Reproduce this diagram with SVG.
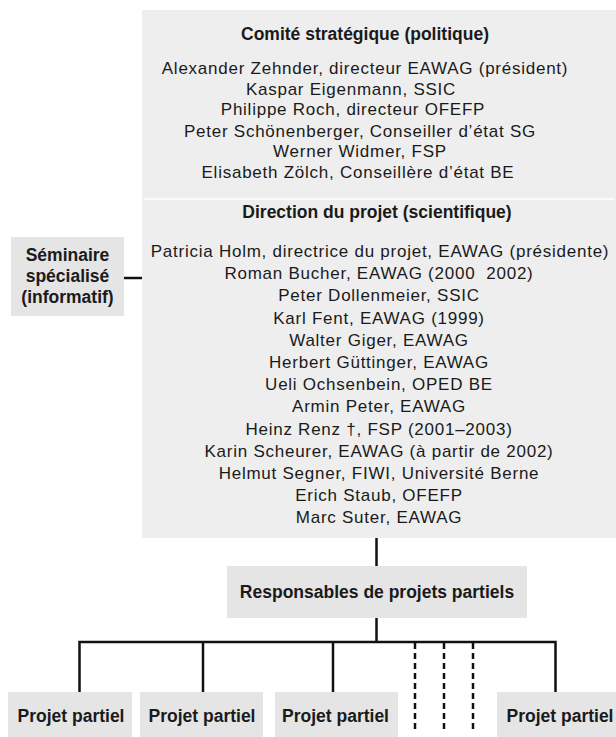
<svg xmlns="http://www.w3.org/2000/svg" width="616" height="737" viewBox="0 0 616 737">
<style>
.box{fill:#eeeeee}
.sbox{fill:#e5e5e5}
text{font-family:"Liberation Sans",Arial,Helvetica,sans-serif;fill:#1a1a1a;text-anchor:middle}
.h{font-weight:bold;font-size:17.5px}
.r{font-size:17px;letter-spacing:0.75px}
.ln{stroke:#111111;stroke-width:2.5;fill:none}
.dash{stroke-dasharray:6 4}
</style>
<rect width="616" height="737" fill="#ffffff"/>
<g id="conseil">
<rect class="box" x="142" y="10" width="474" height="528"/>
<line x1="144" y1="199" x2="614" y2="199" stroke="#ffffff" stroke-width="1.5"/>
</g>
<g id="comite">
<text class="h" x="365" y="40">Comité stratégique (politique)</text>
<text class="r" x="365" y="74">Alexander Zehnder, directeur EAWAG (président)</text>
<text class="r" x="351" y="94.5">Kaspar Eigenmann, SSIC</text>
<text class="r" x="353" y="115">Philippe Roch, directeur OFEFP</text>
<text class="r" x="360" y="136.5">Peter Schönenberger, Conseiller d’état SG</text>
<text class="r" x="360" y="157">Werner Widmer, FSP</text>
<text class="r" x="358" y="177.5">Elisabeth Zölch, Conseillère d’état BE</text>
</g>
<g id="direction">
<text class="h" x="377" y="218">Direction du projet (scientifique)</text>
<text class="r" x="380" y="257">Patricia Holm, directrice du projet, EAWAG (présidente)</text>
<text class="r" x="379" y="279.2">Roman Bucher, EAWAG (2000 &#160;2002)</text>
<text class="r" x="379" y="301.4">Peter Dollenmeier, SSIC</text>
<text class="r" x="379" y="323.6">Karl Fent, EAWAG (1999)</text>
<text class="r" x="379" y="345.8">Walter Giger, EAWAG</text>
<text class="r" x="379" y="368">Herbert Güttinger, EAWAG</text>
<text class="r" x="379" y="390.2">Ueli Ochsenbein, OPED BE</text>
<text class="r" x="379" y="412.4">Armin Peter, EAWAG</text>
<text class="r" x="379" y="434.6">Heinz Renz †, FSP (2001–2003)</text>
<text class="r" x="379" y="456.8">Karin Scheurer, EAWAG (à partir de 2002)</text>
<text class="r" x="379" y="479">Helmut Segner, FIWI, Université Berne</text>
<text class="r" x="379" y="501.2">Erich Staub, OFEFP</text>
<text class="r" x="379" y="523.4">Marc Suter, EAWAG</text>
</g>
<g id="seminaire">
<rect class="sbox" x="11" y="237" width="113" height="79"/>
<text class="h" x="67.5" y="261">Séminaire</text>
<text class="h" x="67.5" y="282">spécialisé</text>
<text class="h" x="67.5" y="303">(informatif)</text>
</g>
<g id="responsables">
<rect class="sbox" x="227" y="566" width="300" height="52"/>
<text class="h" x="377" y="598">Responsables de projets partiels</text>
</g>
<g id="projet1">
<rect class="sbox" x="8" y="692" width="124" height="45"/>
<text class="h" x="71" y="722">Projet partiel</text>
</g>
<g id="projet2">
<rect class="sbox" x="140" y="692" width="123" height="45"/>
<text class="h" x="202" y="722">Projet partiel</text>
</g>
<g id="projet3">
<rect class="sbox" x="275" y="692" width="123" height="45"/>
<text class="h" x="335.5" y="722">Projet partiel</text>
</g>
<g id="projet4">
<rect class="sbox" x="497" y="692" width="119" height="45"/>
<text class="h" x="560" y="722">Projet partiel</text>
</g>
<g id="connectors">
<line class="ln" x1="124" y1="278" x2="142" y2="278"/>
<line class="ln" x1="376.5" y1="538" x2="376.5" y2="566"/>
<line class="ln" x1="376.5" y1="618" x2="376.5" y2="642"/>
<polyline class="ln" points="79.5,692 79.5,642 555.5,642 555.5,692"/>
<line class="ln" x1="203" y1="642" x2="203" y2="692"/>
<line class="ln" x1="333" y1="642" x2="333" y2="692"/>
<line class="ln dash" x1="415" y1="643" x2="415" y2="729"/>
<line class="ln dash" x1="444" y1="643" x2="444" y2="729"/>
<line class="ln dash" x1="473" y1="643" x2="473" y2="729"/>
</g>
</svg>
